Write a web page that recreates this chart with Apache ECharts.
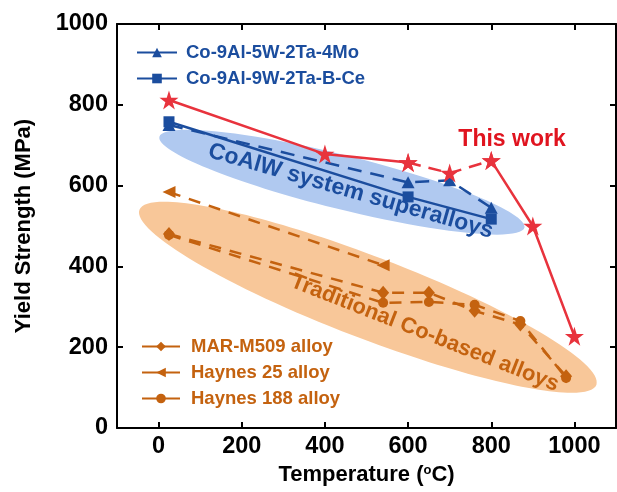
<!DOCTYPE html>
<html>
<head>
<meta charset="utf-8">
<script src="https://cdn.jsdelivr.net/npm/echarts@6/dist/echarts.min.js"></script>
<style>html,body{margin:0;padding:0;background:#fff}#c{width:617px;height:492px}</style>
</head>
<body>
<div id="c"></div>
<script>
// ---- data ----
const xTicks = [0, 200, 400, 600, 800, 1000];
const yTicks = [0, 200, 400, 600, 800, 1000];
const thisWorkA = [[25, 812], [400, 678], [600, 657], null, [800, 662], [900, 500], [1000, 227]];
const thisWorkB = [[600, 657], [700, 631], [800, 662]];
const coMo = [[25, 750], [600, 608], [700, 613], [800, 545]];
const coCe = [[25, 758], [600, 572], [800, 517]];
const marM509 = [[25, 480], [540, 335], [650, 335], [760, 290], [870, 256], [980, 128]];
const haynes25 = [[25, 584], [540, 403]];
const haynes188 = [[25, 478], [540, 310], [650, 312], [760, 305], [870, 265], [980, 124]];
// region ellipses: major-axis endpoints in data units
const blueRegion = [[2, 721], [880, 496]];
const orangeRegion = [[-46, 540], [1053, 107]];
const labelCoAlW = [462, 586];
const labelTrad = [640, 235];
const labelThis = [850, 714];

const BLUE = '#1B4D9E', RED = '#E8333D', ORANGE = '#C4620F';
const FONT = '"Liberation Sans", Arial, sans-serif';
const STAR = 'path://M50,0 L61.2,34.5 L97.6,34.5 L68.2,55.9 L79.4,90.5 L50,69.1 L20.6,90.5 L31.8,55.9 L2.4,34.5 L38.8,34.5 Z';

const chart = echarts.init(document.getElementById('c'));

function ellipseItem(region, halfMinor, color) {
  return function (params, api) {
    const p1 = api.coord(region[0]);
    const p2 = api.coord(region[1]);
    const cx = (p1[0] + p2[0]) / 2, cy = (p1[1] + p2[1]) / 2;
    const len = Math.hypot(p2[0] - p1[0], p2[1] - p1[1]) / 2;
    const ang = Math.atan2(p2[1] - p1[1], p2[0] - p1[0]);
    return {
      type: 'ellipse', x: cx, y: cy, rotation: -ang,
      shape: { cx: 0, cy: 0, rx: len, ry: halfMinor },
      style: { fill: color }
    };
  };
}
function textItem(pos, text, color, size, rotDeg) {
  return function (params, api) {
    const p = api.coord(pos);
    return {
      type: 'text', x: p[0], y: p[1], rotation: rotDeg * Math.PI / 180,
      style: { text: text, fill: color, font: 'bold ' + size + 'px ' + FONT, align: 'center', verticalAlign: 'middle' }
    };
  };
}

const lineBase = { type: 'line', z: 5, lineStyle: { width: 2.5 } };
const plain = function (v) { return String(v); };

chart.setOption({
  animation: false,
  grid: { left: 117, right: 1, top: 24, bottom: 64, show: false },
  xAxis: [{
    type: 'value', min: -100, max: 1100,
    name: 'Temperature ({s|o}C)', nameLocation: 'middle', nameGap: 29,
    nameTextStyle: { color: '#000', fontWeight: 'bold', fontSize: 22, fontFamily: FONT, verticalAlign: 'top',
      rich: { s: { fontSize: 13, fontWeight: 'bold', verticalAlign: 'top', padding: [0, 0, 8, 0], fontFamily: FONT } } },
    axisLine: { show: true, onZero: false, lineStyle: { color: '#000', width: 2 } },
    axisTick: { show: true, inside: true, length: 6, customValues: xTicks, lineStyle: { color: '#000', width: 2 } },
    axisLabel: { customValues: xTicks, formatter: plain, color: '#000', fontWeight: 'bold', fontSize: 23.5, fontFamily: FONT, margin: 7 },
    splitLine: { show: false }
  }, {
    type: 'value', min: -100, max: 1100, position: 'top',
    axisLine: { show: true, onZero: false, lineStyle: { color: '#000', width: 2 } },
    axisTick: { show: true, inside: true, length: 6, customValues: xTicks, lineStyle: { color: '#000', width: 2 } },
    axisLabel: { show: false }, splitLine: { show: false }
  }],
  yAxis: [{
    type: 'value', min: 0, max: 1000, interval: 200,
    name: 'Yield Strength (MPa)', nameLocation: 'middle', nameGap: 82,
    nameTextStyle: { color: '#000', fontWeight: 'bold', fontSize: 22, fontFamily: FONT },
    axisLine: { show: true, onZero: false, lineStyle: { color: '#000', width: 2 } },
    axisTick: { show: true, inside: true, length: 6, customValues: yTicks, lineStyle: { color: '#000', width: 2 } },
    axisLabel: { customValues: yTicks, formatter: plain, color: '#000', fontWeight: 'bold', fontSize: 23.5, fontFamily: FONT, margin: 9 },
    splitLine: { show: false }
  }, {
    type: 'value', min: 0, max: 1000, interval: 200, position: 'right',
    axisLine: { show: true, onZero: false, lineStyle: { color: '#000', width: 2 } },
    axisTick: { show: true, inside: true, length: 6, customValues: yTicks, lineStyle: { color: '#000', width: 2 } },
    axisLabel: { show: false }, splitLine: { show: false }
  }],
  legend: [{
    orient: 'vertical', left: 131, top: 38, itemWidth: 40, itemHeight: 12, itemGap: 7,
    textStyle: { fontWeight: 'bold', fontSize: 18.5, fontFamily: FONT, padding: [0, 0, 0, 4] },
    lineStyle: { type: 'solid' },
    data: [
      { name: 'Co-9Al-5W-2Ta-4Mo', textStyle: { color: BLUE } },
      { name: 'Co-9Al-9W-2Ta-B-Ce', textStyle: { color: BLUE } }
    ]
  }, {
    orient: 'vertical', left: 136, top: 332, itemWidth: 38, itemHeight: 12, itemGap: 7,
    textStyle: { fontWeight: 'bold', fontSize: 18.5, fontFamily: FONT, padding: [0, 0, 0, 6] },
    lineStyle: { type: 'solid' },
    data: [
      { name: 'MAR-M509 alloy', textStyle: { color: ORANGE } },
      { name: 'Haynes 25 alloy', textStyle: { color: ORANGE } },
      { name: 'Haynes 188 alloy', textStyle: { color: ORANGE } }
    ]
  }],
  series: [
    { type: 'custom', z: 1, silent: true, data: [0], renderItem: ellipseItem(orangeRegion, 41, '#F8C799') },
    { type: 'custom', z: 1, silent: true, data: [0], renderItem: ellipseItem(blueRegion, 27, '#B0C9F0') },
    { type: 'custom', z: 2, silent: true, data: [0], renderItem: textItem(labelCoAlW, 'CoAlW system superalloys', BLUE, 23, -16) },
    { type: 'custom', z: 2, silent: true, data: [0], renderItem: textItem(labelTrad, 'Traditional Co-based alloys', ORANGE, 22, -21.5) },
    { type: 'custom', z: 2, silent: true, data: [0], renderItem: textItem(labelThis, 'This work', '#E0141F', 23, 0) },

    Object.assign({}, lineBase, { name: 'Haynes 25 alloy', data: haynes25, symbol: 'triangle', symbolRotate: 90, symbolSize: [12, 13],
      itemStyle: { color: ORANGE }, lineStyle: { width: 2.5, color: ORANGE, type: [12, 9] } }),
    Object.assign({}, lineBase, { name: 'MAR-M509 alloy', data: marM509, symbol: 'diamond', symbolSize: [12, 14],
      itemStyle: { color: ORANGE }, lineStyle: { width: 2.5, color: ORANGE, type: [12, 9] } }),
    Object.assign({}, lineBase, { name: 'Haynes 188 alloy', data: haynes188, symbol: 'circle', symbolSize: 10,
      itemStyle: { color: ORANGE }, lineStyle: { width: 2.5, color: ORANGE, type: [12, 9] } }),

    Object.assign({}, lineBase, { name: 'Co-9Al-5W-2Ta-4Mo', data: coMo, symbol: 'triangle', symbolSize: [13, 12],
      itemStyle: { color: BLUE }, lineStyle: { width: 2.5, color: BLUE, type: [14, 9] } }),
    Object.assign({}, lineBase, { name: 'Co-9Al-9W-2Ta-B-Ce', data: coCe, symbol: 'rect', symbolSize: 11,
      itemStyle: { color: BLUE }, lineStyle: { width: 2.5, color: BLUE } }),

    Object.assign({}, lineBase, { name: 'This work', data: thisWorkA, connectNulls: false, symbol: STAR, symbolSize: 19,
      itemStyle: { color: RED }, lineStyle: { width: 2.5, color: RED } }),
    Object.assign({}, lineBase, { name: 'This work', data: thisWorkB, symbol: STAR, symbolSize: 19,
      itemStyle: { color: RED }, lineStyle: { width: 2.5, color: RED, type: [13, 8] } })
  ]
});
</script>
</body>
</html>
